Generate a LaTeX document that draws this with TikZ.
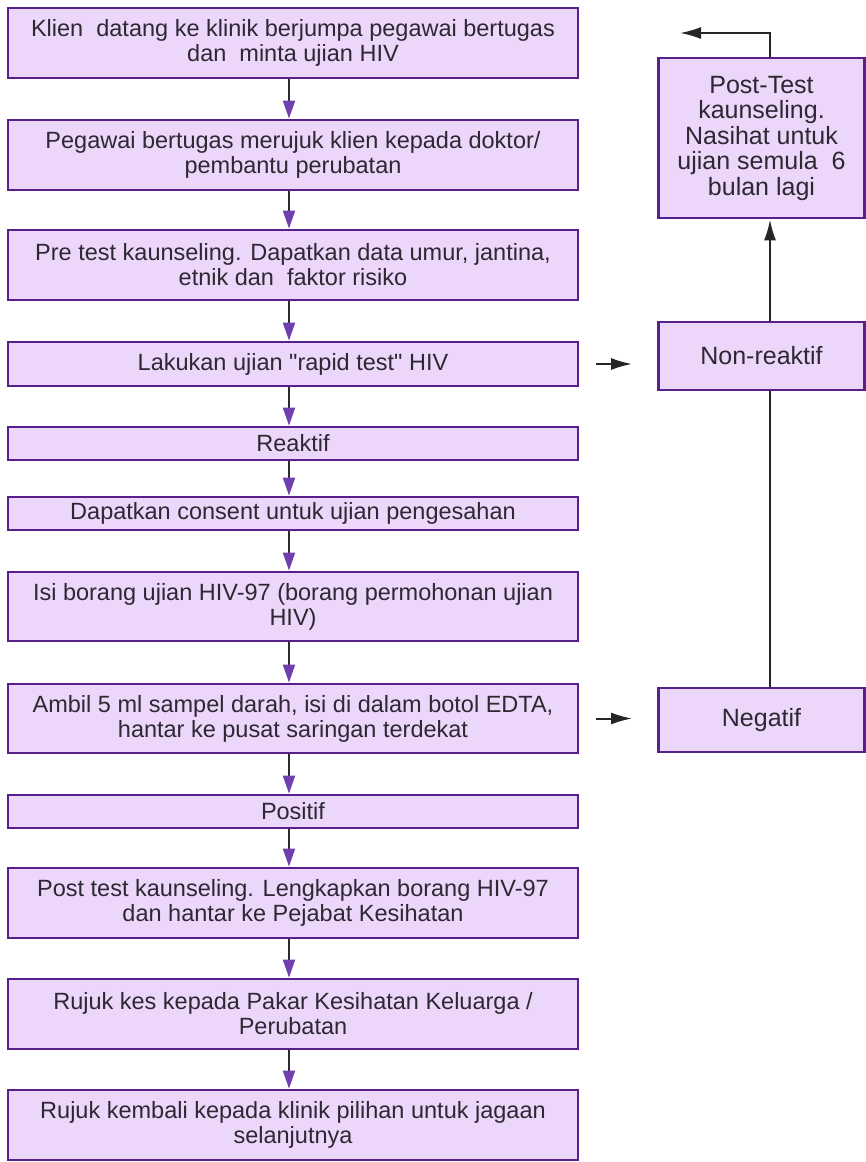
\documentclass[tikz,border=0pt]{standalone}
\usepackage{fontspec}
\setmainfont{Liberation Sans}
\usetikzlibrary{arrows.meta, calc, positioning, backgrounds}
\definecolor{boxfill}{RGB}{236,214,250}
\definecolor{boxline}{RGB}{88,32,140}
\definecolor{tippurple}{RGB}{112,64,176}
\definecolor{ink}{RGB}{45,40,50}

\begin{document}
\begin{tikzpicture}[x=1pt,y=-1pt,
    box/.style={draw=boxline,fill=boxfill,line width=2.8pt,align=center,inner sep=0pt,text=ink},
    lbox/.style={box,minimum width=570pt,font=\fontsize{23.5}{25}\selectfont},
    rbox/.style={box,minimum width=206pt,font=\fontsize{25}{25.5}\selectfont},
    flow/.style={draw=ink,line width=2pt,-{Triangle[length=18pt,width=12pt,color=tippurple]}},
    side/.style={draw=black!85,line width=2pt,-{Latex[length=21pt,width=12pt]}}]
  \useasboundingbox[fill=white] (0,0) rectangle (866,1162);
  % left column
  \node[lbox,minimum height=70pt] (visit) at (293,43) {Klien\ \ datang ke klinik berjumpa pegawai bertugas\\dan\ \ minta ujian HIV};
  \node[lbox,minimum height=70pt] (refer) at (293,155) {Pegawai bertugas merujuk klien kepada doktor/\\pembantu perubatan};
  \node[lbox,minimum height=70pt] (pretest) at (293,265) {Pre test kaunseling. Dapatkan data umur, jantina,\\etnik dan\ \ faktor risiko};
  \node[lbox,minimum height=44pt] (rapid) at (293,364) {Lakukan ujian \textquotedbl rapid test\textquotedbl{} HIV};
  \node[lbox,minimum height=33pt] (reak) at (293,443.5) {Reaktif};
  \node[lbox,minimum height=33pt] (consent) at (293,513.5) {Dapatkan consent untuk ujian pengesahan};
  \node[lbox,minimum height=69pt] (form) at (293,606.5) {Isi borang ujian HIV-97 (borang permohonan ujian\\HIV)};
  \node[lbox,minimum height=69pt] (blood) at (293,718.5) {Ambil 5 ml sampel darah, isi di dalam botol EDTA,\\hantar ke pusat saringan terdekat};
  \node[lbox,minimum height=33pt] (pos) at (293,811.5) {Positif};
  \node[lbox,minimum height=70pt] (posttest) at (293,903) {Post test kaunseling. Lengkapkan borang HIV-97\\dan hantar ke Pejabat Kesihatan};
  \node[lbox,minimum height=70pt] (expert) at (293,1014) {Rujuk kes kepada Pakar Kesihatan Keluarga /\\Perubatan};
  \node[lbox,minimum height=70pt] (back) at (293,1125) {Rujuk kembali kepada klinik pilihan untuk jagaan\\selanjutnya};
  \foreach \a/\b in {visit/refer,refer/pretest,pretest/rapid,rapid/reak,reak/consent,consent/form,form/blood,blood/pos,pos/posttest,posttest/expert,expert/back}
    \draw[flow] ([xshift=-4pt]\a.south) -- ([xshift=-4pt]\b.north);
  % right column
  \node[rbox,minimum height=160pt] (advice) at (761.5,138) {Post-Test\\kaunseling.\\Nasihat untuk\\ujian semula\ \ 6\\bulan lagi};
  \node[rbox,minimum height=68pt] (nonr) at (761.5,356) {Non-reaktif};
  \node[rbox,minimum height=64pt] (neg) at (761.5,720) {Negatif};
  \coordinate (vx) at (770,0);
  \coordinate (ret) at (680,33);
  \draw[side,shorten <=17pt,shorten >=25pt] (rapid.east) -- (rapid.east -| nonr.west);
  \draw[side,shorten <=17pt,shorten >=25pt] (blood.east) -- (blood.east -| neg.west);
  \draw[side] (nonr.north -| vx) -- (advice.south -| vx);
  \draw[black!85,line width=2pt] (neg.north -| vx) -- (nonr.south -| vx);
  \draw[side] (advice.north -| vx) |- (ret);
\end{tikzpicture}
\end{document}
